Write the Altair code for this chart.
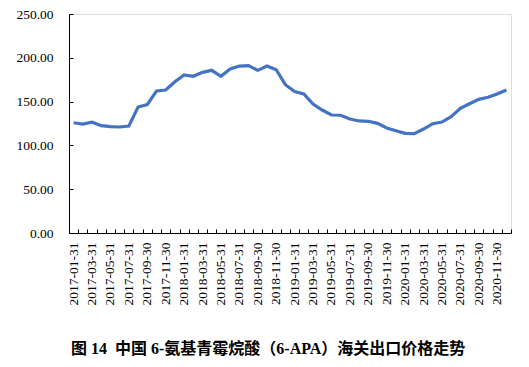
import altair as alt
import pandas as pd

# Month-end dates, Jan 2017 - Dec 2020
months = [d.strftime("%Y-%m-%d") for d in pd.date_range("2017-01-31", periods=48, freq="ME")]

# Export price (USD/kg)
prices = [
    125.9, 124.4, 126.4, 122.5, 121.4, 121.0, 122.1, 143.8, 146.5, 162.1, 163.2, 172.7,
    180.4, 178.9, 183.4, 185.7, 178.9, 187.2, 190.6, 191.0, 185.7, 190.6, 186.4, 169.3,
    161.5, 158.7, 147.3, 140.4, 134.7, 134.4, 130.1, 127.9, 127.5, 125.2, 119.9, 116.8,
    113.8, 113.4, 118.7, 124.8, 126.7, 132.8, 142.3, 147.6, 152.6, 154.9, 158.7, 163.2,
]

y_ticks = [0, 50, 100, 150, 200, 250]
title_text = "图\u00a014\u00a0\u00a0中国\u00a06-氨基青霉烷酸（6-APA）海关出口价格走势"

df = pd.DataFrame({"date": months, "price": prices})

FONT = "Liberation Serif"

xscale = alt.Scale(type="band", paddingInner=0, paddingOuter=0)
yscale = alt.Scale(domain=[0, 250], nice=False, zero=True)

base = alt.Chart(df)

line = base.mark_line(color="#4472C4", strokeWidth=3.2).encode(
    x=alt.X(
        "date:O",
        sort=None,
        scale=xscale,
        bandPosition=0.5,
        axis=alt.Axis(
            orient="bottom",
            title=None,
            ticks=False,
            domainColor="black",
            domainWidth=1,
            labelAngle=-90,
            labelFont=FONT,
            labelFontSize=13.5,
            labelColor="black",
            labelPadding=9,
            labelOverlap=False,
            labelExpr="toNumber(slice(datum.value, 5, 7)) % 2 == 1 ? datum.value : ''",
        ),
    ),
    y=alt.Y(
        "price:Q",
        scale=yscale,
        axis=alt.Axis(
            orient="left",
            title=None,
            values=y_ticks,
            format=".2f",
            ticks=False,
            grid=False,
            domainColor="black",
            domainWidth=1,
            labelFont=FONT,
            labelFontSize=13.5,
            labelColor="black",
            labelPadding=16,
        ),
    ),
)

ticks_layer = base.mark_line(opacity=0).encode(
    x=alt.X(
        "date:O",
        sort=None,
        scale=xscale,
        bandPosition=0.5,
        axis=alt.Axis(
            orient="bottom",
            title=None,
            labels=False,
            domain=False,
            ticks=True,
            tickSize=4,
            tickColor="black",
            tickWidth=1,
            tickBand="extent",
            offset=-4,
        ),
    ),
    y=alt.Y(
        "price:Q",
        scale=yscale,
        axis=alt.Axis(
            orient="left",
            title=None,
            values=y_ticks,
            labels=False,
            domain=False,
            grid=False,
            ticks=True,
            tickSize=4,
            tickColor="black",
            tickWidth=1,
            offset=-4,
        ),
    ),
)

chart = (
    alt.layer(line, ticks_layer)
    .resolve_axis(x="independent", y="independent")
    .properties(
        width=442,
        height=219,
        autosize=alt.AutoSizeParams(type="none"),
        padding={"left": 61, "top": 6, "right": 10, "bottom": 126},
        title=alt.TitleParams(
            text=title_text,
            orient="bottom",
            anchor="start",
            frame="group",
            dx=2,
            offset=36,
            font="Liberation Serif, Noto Sans CJK SC",
            fontSize=16,
            fontWeight="bold",
            color="black",
        ),
    )
    .configure_view(stroke=None)
    .configure(background="white")
)

chart.save("out.html", embed_options={"renderer": "svg", "actions": False})
